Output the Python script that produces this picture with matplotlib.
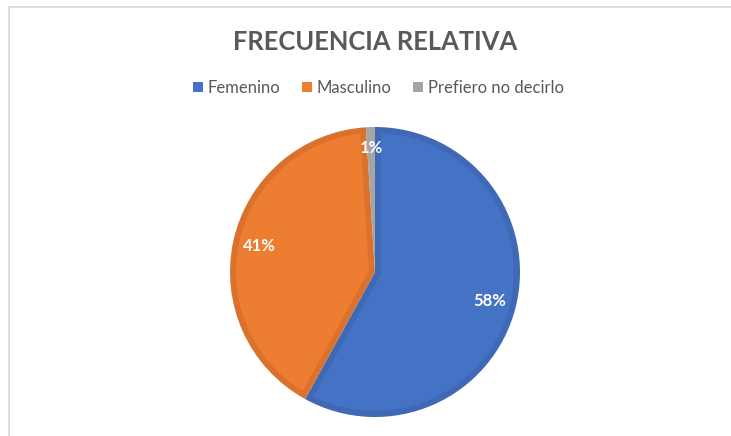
import numpy as np
import matplotlib
matplotlib.use("Agg")
import matplotlib.pyplot as plt
from matplotlib.patches import Patch, Rectangle, Polygon

categories = ["Femenino", "Masculino", "Prefiero no decirlo"]
values = [58, 41, 1]
colors = ["#4472C4", "#ED7D31", "#A5A5A5"]
edge_colors = ["#3F68B5", "#DA712C", "#A0A0A0"]
title = "FRECUENCIA RELATIVA"

W, H = 731, 436
fig = plt.figure(figsize=(W / 100, H / 100), dpi=100)
fig.patch.set_facecolor("white")

# chart frame (cropped on right and bottom)
fig.patches.append(Rectangle((8.5 / W, -0.1), 1.2, 1.1 - 7.5 / H,
                             transform=fig.transFigure, fill=False,
                             edgecolor="#D9D9D9", linewidth=1.3))

cx, cy, r = 375, 272, 145
ax = fig.add_axes([(cx - r) / W, (H - cy - r) / H, 2 * r / W, 2 * r / H])
wedges, texts = ax.pie(values, colors=edge_colors, startangle=90, counterclock=False,
                       labels=[f"{v}%" for v in values], labeldistance=0.815,
                       textprops=dict(color="white", fontweight="bold",
                                      fontsize=12, family="Lato"))

# lighter inner face inset from the wedge outline (Excel bevel look)
d = 6 / r
for w, c in zip(wedges, colors):
    t1, t2 = np.radians(w.theta1), np.radians(w.theta2)
    half = (t2 - t1) / 2
    if np.sin(half) * (1 - d) <= d * 1.5:
        w.set_facecolor(c)
        continue
    mid = (t1 + t2) / 2
    apex = d / np.sin(half)
    delta = np.arcsin(d / (1 - d))
    arc = np.linspace(t1 + delta, t2 - delta, 200)
    pts = [(apex * np.cos(mid), apex * np.sin(mid))]
    pts += list(zip((1 - d) * np.cos(arc), (1 - d) * np.sin(arc)))
    ax.add_patch(Polygon(pts, closed=True, facecolor=c, edgecolor="none", zorder=w.get_zorder()))

for t in texts:
    t.set_ha("center")
    t.set_va("center")
    t.set_zorder(5)
x, y = texts[2].get_position()
texts[2].set_position((x * 0.855 / 0.815, y * 0.855 / 0.815))
ax.set_xlim(-1, 1)
ax.set_ylim(-1, 1)

fig.text(cx / W, 1 - 42 / H, title, ha="center", va="center",
         fontsize=18.4, fontweight="bold", color="#595959", family="Lato")

handles = [Patch(facecolor=c, edgecolor="none") for c in colors]
fig.legend(handles, categories, loc="center", bbox_to_anchor=(378.5 / W, 1 - 88 / H),
           ncol=3, frameon=False, handlelength=0.6, handleheight=0.6,
           handletextpad=0.3, columnspacing=1.3,
           prop=dict(family="Lato", size=12), labelcolor="#595959")

fig.savefig("out.png", dpi=100)
